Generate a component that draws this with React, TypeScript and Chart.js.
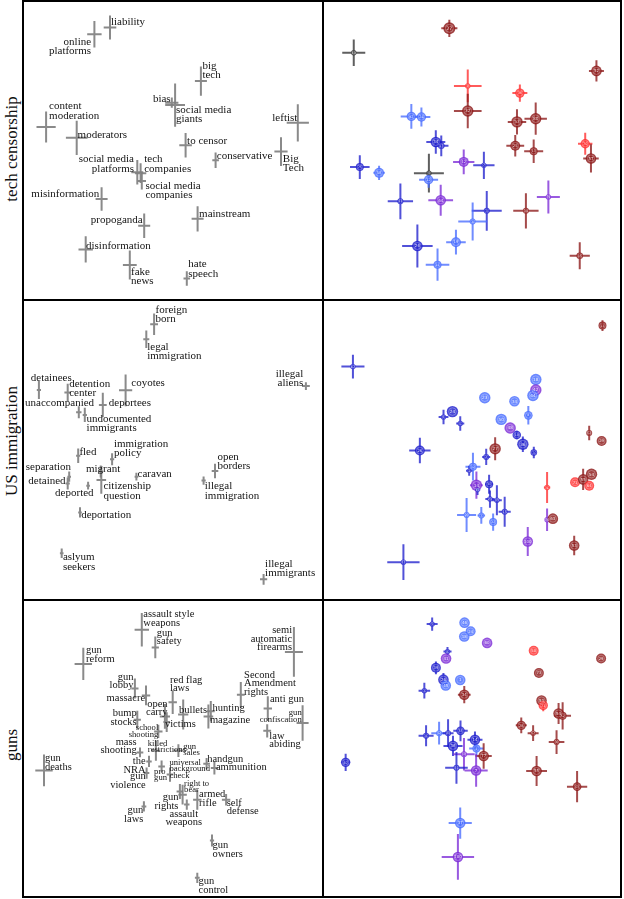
import React, { useEffect, useRef } from "react";
import { Chart, registerables } from "chart.js";

Chart.register(...registerables);

// [label, x, y, xErr, yErr, labelX, labelY, align(l|r|c), small?]
type Word = [string, number, number, number, number, number, number, string, number?];
// [x, y, xErr, yErr, weight, group, id]
type Pt = [number, number, number, number, number, string, number];

const rowTitles = ["tech censorship", "US immigration", "guns"];

const techWords: Word[] = [
  ["liability", 29.0, 91.2, 2.1, 4.0, 29.3, 92.8, "l"],
  ["online\nplatforms", 23.8, 88.9, 2.4, 4.4, 22.7, 86.4, "r"],
  ["big\ntech", 59.3, 73.3, 2.0, 4.9, 59.8, 78.4, "l"],
  ["bias", 49.6, 66.1, 2.2, 1.7, 49.2, 67.4, "r"],
  ["social media\ngiants", 50.7, 65.3, 3.3, 7.2, 51.0, 63.7, "l"],
  ["content\nmoderation", 7.7, 58.0, 3.2, 5.2, 8.7, 64.8, "l"],
  ["moderators", 17.9, 54.4, 3.6, 5.7, 18.2, 55.4, "l"],
  ["leftist", 91.6, 59.4, 3.7, 6.2, 83.1, 61.1, "l"],
  ["Big\nTech", 86.0, 49.8, 2.2, 4.8, 86.6, 47.4, "l"],
  ["to censor", 54.2, 51.9, 2.1, 4.1, 54.7, 53.2, "l"],
  ["conservative", 64.2, 46.9, 1.1, 2.6, 64.6, 48.4, "l"],
  ["social media\nplatforms", 38.1, 42.9, 2.0, 4.1, 37.0, 47.2, "r"],
  ["tech\ncompanies", 39.2, 42.6, 1.9, 3.3, 40.4, 47.2, "l"],
  ["social media\ncompanies", 39.6, 40.0, 1.4, 2.8, 40.8, 38.4, "l"],
  ["misinformation", 26.2, 34.0, 2.0, 3.9, 25.4, 35.7, "r"],
  ["propoganda", 40.4, 25.1, 2.0, 4.1, 39.9, 27.0, "r"],
  ["mainstream", 58.2, 27.4, 2.0, 4.2, 58.7, 28.9, "l"],
  ["disinformation", 20.9, 17.2, 2.4, 4.4, 21.0, 18.4, "l"],
  ["fake\nnews", 35.6, 12.0, 2.3, 4.8, 36.0, 9.7, "l"],
  ["hate\nspeech", 54.6, 7.5, 1.1, 2.4, 55.1, 12.2, "l"],
];

const immigWords: Word[] = [
  ["foreign\nborn", 43.7, 91.9, 1.3, 3.6, 44.2, 96.7, "l"],
  ["legal\nimmigration", 41.1, 86.9, 1.0, 2.9, 41.4, 84.3, "l"],
  ["detainees", 5.3, 70.0, 0.7, 3.0, 2.6, 74.1, "l"],
  ["detention\ncenter", 14.9, 69.2, 1.1, 2.9, 15.4, 71.9, "l"],
  ["unaccompanied", 18.6, 62.6, 0.9, 2.0, 0.7, 65.6, "l"],
  ["undocumented\nimmigrants", 20.6, 61.7, 0.7, 2.4, 21.2, 60.3, "l"],
  ["coyotes", 34.2, 69.9, 2.2, 5.3, 36.1, 72.2, "l"],
  ["deportees", 26.6, 65.0, 1.3, 4.1, 28.6, 65.7, "l"],
  ["illegal\naliens", 94.3, 71.3, 1.3, 1.3, 93.4, 75.3, "r"],
  ["fled", 18.4, 48.1, 0.7, 2.4, 18.8, 49.4, "l"],
  ["immigration\npolicy", 29.7, 46.9, 0.7, 2.0, 30.3, 51.9, "l"],
  ["migrant", 25.9, 42.8, 0.8, 2.0, 21.0, 43.7, "l"],
  ["citizenship\nquestion", 26.1, 40.0, 1.6, 4.6, 26.8, 37.8, "l"],
  ["caravan", 37.8, 41.1, 0.6, 1.3, 38.2, 42.0, "l"],
  ["separation", 15.4, 41.1, 0.6, 1.7, 16.0, 44.3, "r"],
  ["detained", 14.9, 38.8, 0.7, 2.0, 14.2, 39.7, "r"],
  ["deported", 21.7, 38.1, 0.6, 1.3, 10.7, 35.6, "l"],
  ["open\nborders", 64.0, 43.0, 1.1, 2.4, 64.8, 47.7, "l"],
  ["illegal\nimmigration", 60.2, 39.8, 0.7, 1.4, 60.6, 37.8, "l"],
  ["deportation", 19.0, 29.2, 0.6, 1.7, 19.4, 28.3, "l"],
  ["aslyum\nseekers", 12.9, 15.6, 0.6, 1.6, 13.3, 14.2, "l"],
  ["illegal\nimmigrants", 80.2, 6.9, 1.2, 1.8, 80.7, 11.9, "l"],
];

const gunWords: Word[] = [
  ["assault style\nweapons", 39.6, 90.1, 2.4, 5.6, 40.1, 95.1, "l"],
  ["gun\nsafety", 44.1, 84.2, 1.2, 3.6, 44.6, 89.0, "l"],
  ["gun\nreform", 20.1, 78.7, 2.9, 5.4, 21.0, 83.2, "l"],
  ["semi\nautomatic\nfirearms", 90.3, 82.7, 3.0, 8.3, 89.7, 89.9, "r"],
  ["gun\nlobby", 37.3, 70.5, 1.2, 3.3, 36.8, 74.3, "r"],
  ["massacre", 41.0, 68.2, 1.4, 3.3, 40.7, 67.1, "r"],
  ["red flag\nlaws", 49.9, 65.9, 1.4, 3.9, 49.0, 73.4, "l"],
  ["open\ncarry", 47.3, 61.2, 1.7, 4.1, 48.2, 65.3, "r"],
  ["bullets", 53.4, 61.8, 1.7, 5.0, 52.0, 63.1, "l"],
  ["victims", 47.9, 59.3, 1.1, 3.3, 47.3, 58.7, "l"],
  ["hunting", 62.6, 62.9, 1.3, 3.4, 63.2, 63.8, "l"],
  ["magazine", 61.8, 61.2, 1.6, 4.0, 62.3, 59.9, "l"],
  ["Second\nAmendment\nrights", 72.6, 68.4, 1.3, 4.3, 73.7, 75.0, "l"],
  ["anti gun", 81.6, 63.8, 1.4, 4.1, 82.3, 66.8, "l"],
  ["gun\nconfiscation", 93.2, 59.0, 2.0, 5.9, 92.9, 62.3, "r", 1],
  ["law\nabiding", 81.4, 56.4, 1.3, 2.2, 82.1, 54.6, "l"],
  ["bump\nstocks", 38.1, 60.1, 1.2, 3.0, 37.9, 62.1, "r"],
  ["school\nshooting", 45.1, 56.2, 1.4, 2.2, 45.1, 57.3, "r", 1],
  ["mass\nshooting", 39.0, 49.2, 1.1, 1.6, 37.9, 52.7, "r"],
  ["killed\nrestrictions", 44.3, 49.8, 1.4, 3.4, 41.6, 52.1, "l", 1],
  ["gun\nsales", 51.8, 49.8, 1.6, 2.1, 53.4, 51.2, "l", 1],
  ["the\nNRA", 42.0, 46.2, 0.9, 1.9, 40.9, 46.2, "r"],
  ["gun\nviolence", 41.2, 42.3, 0.9, 1.9, 40.9, 41.2, "r"],
  ["pro\ngun", 46.2, 44.5, 1.1, 2.0, 43.7, 42.9, "l", 1],
  ["universal\nbackground\ncheck", 49.0, 41.8, 1.1, 2.4, 48.8, 45.9, "l", 1],
  ["handgun", 61.2, 45.4, 1.1, 1.9, 61.4, 46.8, "l"],
  ["ammunition", 63.8, 44.0, 1.2, 2.2, 64.3, 44.4, "l"],
  ["right to\nbear", 53.2, 35.1, 1.4, 3.3, 53.7, 38.8, "l", 1],
  ["gun\nrights", 52.3, 36.2, 1.1, 2.5, 51.8, 34.2, "r"],
  ["assault\nweapons", 54.6, 31.8, 0.9, 1.7, 53.6, 28.7, "c"],
  ["armed\nrifle", 58.1, 33.4, 1.4, 3.3, 58.7, 35.1, "l"],
  ["self\ndefense", 67.7, 33.4, 1.4, 1.9, 67.9, 32.3, "l"],
  ["gun\nlaws", 40.3, 31.2, 0.8, 1.7, 40.1, 29.8, "r"],
  ["gun\nowners", 63.0, 19.8, 0.7, 2.0, 63.2, 18.1, "l"],
  ["gun\ncontrol", 58.1, 7.4, 0.8, 1.7, 58.5, 6.2, "l"],
  ["gun\ndeaths", 7.0, 43.2, 2.9, 5.3, 7.3, 47.1, "l"],
];

const techPoints: Pt[] = [
  [8.6, 84.1, 4.0, 4.6, 2.7, "G", 60],
  [41.8, 92.6, 2.8, 3.0, 6, "R", 27],
  [92.9, 77.8, 2.6, 3.7, 5.3, "R", 52],
  [48.2, 72.6, 4.8, 5.7, 2.7, "r", 9],
  [66.3, 70.1, 2.6, 3.0, 4.7, "r", 36],
  [48.2, 63.9, 4.8, 6.0, 5.7, "R", 32],
  [65.3, 60.1, 3.2, 4.4, 5.7, "R", 53],
  [71.8, 61.2, 3.9, 5.6, 5.7, "R", 80],
  [64.7, 51.8, 3.1, 3.7, 5, "R", 25],
  [71.1, 49.9, 3.3, 4.1, 4, "R", 13],
  [89.0, 52.5, 2.5, 3.8, 4.7, "r", 70],
  [91.0, 47.4, 2.7, 4.9, 5.3, "R", 57],
  [28.6, 62.0, 3.7, 4.3, 4.7, "d", 92],
  [32.1, 61.8, 3.1, 3.3, 4.7, "d", 24],
  [37.1, 53.1, 3.3, 4.1, 5.3, "D", 34],
  [39.0, 51.8, 2.5, 3.6, 3.3, "D", 17],
  [46.8, 46.2, 3.7, 4.3, 5, "P", 42],
  [53.8, 45.0, 3.7, 4.7, 2.7, "D", 7],
  [10.7, 44.4, 3.4, 4.1, 4, "D", 75],
  [17.4, 42.4, 2.0, 2.5, 5, "d", 58],
  [34.7, 42.3, 5.2, 6.7, 2.7, "G", 4],
  [34.6, 40.0, 3.3, 2.8, 4.7, "d", 12],
  [24.8, 32.5, 4.4, 6.2, 3, "D", 11],
  [38.8, 32.9, 4.3, 5.4, 5.3, "P", 64],
  [76.2, 34.0, 4.0, 5.7, 2.7, "P", 79],
  [68.4, 29.2, 4.4, 6.1, 3, "R", 38],
  [54.8, 29.2, 5.2, 6.9, 3, "D", 3],
  [49.9, 25.5, 5.0, 6.6, 3, "d", 8],
  [30.7, 17.0, 5.3, 7.5, 5.3, "D", 26],
  [44.1, 18.3, 3.4, 4.3, 5, "d", 19],
  [37.7, 10.5, 4.1, 5.6, 4, "d", 22],
  [87.1, 13.6, 3.5, 4.7, 3.3, "R", 45],
];

const immigPoints: Pt[] = [
  [8.4, 78.9, 4.0, 4.1, 2.7, "D", 67],
  [94.9, 93.1, 0.7, 1.9, 4, "R", 13],
  [71.8, 74.4, 0, 0, 5.7, "d", 18],
  [71.8, 70.8, 0, 0, 5.7, "P", 42],
  [70.8, 68.9, 0, 0, 5.7, "d", 44],
  [54.1, 68.1, 0, 0, 5.7, "d", 23],
  [64.4, 66.9, 0, 0, 5.3, "d", 34],
  [42.9, 63.3, 0, 0, 5.7, "D", 24],
  [39.8, 61.4, 1.7, 2.5, 2.7, "D", 6],
  [45.6, 59.2, 1.4, 2.5, 2.7, "D", 5],
  [69.2, 62.0, 0.8, 3.2, 4.3, "d", 8],
  [59.8, 60.6, 0, 0, 5.7, "d", 50],
  [62.9, 57.6, 0, 0, 5.7, "P", 48],
  [65.2, 55.2, 0.5, 1.5, 4.3, "D", 19],
  [67.3, 52.0, 0.5, 2.7, 5.7, "D", 36],
  [71.1, 49.1, 0.8, 2.0, 3.3, "D", 3],
  [90.3, 55.9, 0.5, 2.5, 3, "R", 52],
  [94.6, 53.1, 0, 0, 5, "R", 29],
  [31.6, 49.8, 3.7, 4.4, 5, "D", 26],
  [57.7, 50.4, 0.5, 4.0, 5.7, "R", 27],
  [54.6, 47.6, 1.4, 2.8, 3, "D", 2],
  [50.0, 44.2, 2.6, 4.8, 4, "d", 12],
  [48.7, 42.8, 1.1, 1.7, 2.3, "D", 1],
  [51.2, 37.8, 2.2, 4.7, 5.7, "P", 14],
  [55.6, 38.1, 1.4, 3.3, 4, "D", 31],
  [51.6, 36.1, 0.9, 1.7, 2.3, "D", 10],
  [55.9, 33.0, 1.6, 3.0, 2.7, "D", 21],
  [58.3, 32.6, 1.7, 5.2, 2.7, "D", 35],
  [61.0, 28.6, 2.1, 5.2, 3, "D", 15],
  [47.8, 27.5, 3.3, 5.9, 3, "d", 20],
  [52.9, 27.3, 1.3, 2.9, 3, "d", 7],
  [57.0, 25.0, 0.8, 3.0, 4, "d", 22],
  [75.7, 37.0, 1.1, 5.4, 2.7, "r", 9],
  [85.4, 38.8, 0, 0, 5, "r", 71],
  [88.2, 39.8, 0.5, 3.7, 5.3, "R", 55],
  [91.1, 41.6, 0, 0, 5.7, "R", 54],
  [90.3, 37.6, 0, 0, 5, "r", 64],
  [75.7, 25.8, 0.5, 3.9, 2.7, "P", 76],
  [77.7, 26.2, 0, 0, 5.3, "R", 63],
  [69.0, 18.3, 0.5, 5.0, 5.3, "P", 100],
  [85.1, 16.9, 0.5, 3.4, 5.3, "R", 53],
  [25.9, 11.1, 5.6, 6.2, 2.7, "D", 37],
];

const gunPoints: Pt[] = [
  [35.9, 93.5, 1.9, 2.3, 2.7, "D", 5],
  [47.1, 94.0, 0, 0, 5.3, "d", 46],
  [49.2, 91.0, 0, 0, 5, "d", 24],
  [47.0, 89.2, 0, 0, 5.3, "d", 18],
  [54.9, 87.0, 0, 0, 5.3, "P", 60],
  [71.0, 84.3, 0, 0, 5, "r", 50],
  [94.3, 81.6, 0, 0, 5, "R", 29],
  [41.2, 84.0, 1.4, 1.6, 2.7, "D", 6],
  [40.7, 81.6, 0, 0, 5.3, "P", 41],
  [37.2, 78.4, 0.8, 2.2, 5, "D", 39],
  [72.8, 76.6, 0, 0, 5, "R", 73],
  [39.8, 74.3, 0.8, 2.3, 5.3, "D", 26],
  [40.6, 72.3, 0, 0, 5.3, "d", 45],
  [45.6, 74.2, 0, 0, 5.3, "d", 1],
  [33.2, 70.5, 2.0, 2.7, 2.7, "D", 3],
  [47.0, 69.1, 2.2, 3.0, 5.3, "R", 34],
  [73.7, 67.1, 0, 0, 5.3, "R", 53],
  [74.3, 65.4, 0.5, 2.0, 4.7, "r", 71],
  [79.6, 62.6, 0.5, 3.6, 5.3, "R", 54],
  [81.0, 61.8, 2.9, 4.7, 4, "R", 52],
  [66.7, 58.5, 1.9, 2.7, 4.7, "R", 28],
  [70.8, 55.8, 1.9, 2.7, 2.7, "R", 57],
  [78.9, 52.7, 2.7, 4.1, 3, "R", 30],
  [33.8, 54.9, 2.6, 3.6, 3, "D", 8],
  [38.3, 55.8, 2.7, 3.9, 3, "d", 12],
  [41.4, 55.8, 1.9, 4.8, 3, "D", 21],
  [45.7, 56.6, 2.5, 3.6, 4.3, "D", 33],
  [50.7, 53.5, 2.6, 2.9, 5.3, "D", 14],
  [43.1, 51.4, 3.3, 3.5, 5.3, "D", 36],
  [51.2, 50.5, 2.5, 2.5, 4, "d", 2],
  [46.9, 48.5, 3.7, 5.6, 3, "P", 10],
  [53.7, 47.9, 2.8, 4.4, 5.3, "R", 77],
  [44.3, 43.8, 3.9, 5.5, 3, "D", 31],
  [51.1, 42.9, 4.0, 5.6, 5.3, "P", 7],
  [6.0, 45.7, 1.5, 3.0, 4.7, "D", 67],
  [72.0, 42.7, 3.6, 5.2, 5.3, "R", 55],
  [86.0, 37.3, 3.5, 5.4, 4.3, "R", 63],
  [45.6, 24.7, 4.0, 5.4, 5.3, "d", 37],
  [44.8, 13.0, 5.6, 7.9, 5.3, "P", 100],
];

const groupRGB: Record<string, string> = {
  R: "140,24,24",
  r: "255,45,45",
  D: "32,32,205",
  d: "72,108,255",
  P: "124,44,215",
  G: "50,50,50",
};

const SERIF = '"Liberation Serif", "Times New Roman", serif';

function scalesFor(w: number, h: number) {
  return {
    x: { type: "linear" as const, display: false, min: 0, max: w / 3 },
    y: { type: "linear" as const, display: false, min: 100 - h / 3, max: 100 },
  };
}

function wordConfig(words: Word[], font: number, lh: number, smallFont: number, smallLh: number) {
  return (w: number, h: number): any => ({
    type: "scatter",
    data: {
      datasets: [{ data: words.map((d) => ({ x: d[1], y: d[2] })), pointRadius: 0 }],
    },
    options: {
      animation: false,
      responsive: false,
      events: [],
      layout: { padding: 0 },
      scales: scalesFor(w, h),
      plugins: { legend: { display: false }, tooltip: { enabled: false } },
    },
    plugins: [
      {
        id: "wordCrosses",
        afterDatasetsDraw(chart: any) {
          const { ctx } = chart;
          const xs = chart.scales.x;
          const ys = chart.scales.y;
          ctx.save();
          ctx.strokeStyle = "rgba(128,128,128,0.92)";
          ctx.lineWidth = 2;
          for (const d of words) {
            const px = xs.getPixelForValue(d[1]);
            const py = ys.getPixelForValue(d[2]);
            ctx.beginPath();
            ctx.moveTo(xs.getPixelForValue(d[1] - d[3]), py);
            ctx.lineTo(xs.getPixelForValue(d[1] + d[3]), py);
            ctx.moveTo(px, ys.getPixelForValue(d[2] - d[4]));
            ctx.lineTo(px, ys.getPixelForValue(d[2] + d[4]));
            ctx.stroke();
          }
          ctx.fillStyle = "#141414";
          ctx.textBaseline = "middle";
          for (const d of words) {
            const small = d[8] === 1;
            ctx.font = `${small ? smallFont : font}px ${SERIF}`;
            ctx.textAlign = d[7] === "r" ? "right" : d[7] === "c" ? "center" : "left";
            const lx = xs.getPixelForValue(d[5]);
            const ly = ys.getPixelForValue(d[6]);
            d[0].split("\n").forEach((line, i) => {
              ctx.fillText(line, lx, ly + i * (small ? smallLh : lh));
            });
          }
          ctx.restore();
        },
      },
    ],
  });
}

function pointConfig(points: Pt[]) {
  return (w: number, h: number): any => ({
    type: "bubble",
    data: {
      datasets: [
        {
          data: points.map((p) => ({ x: p[0], y: p[1], r: p[4] })),
          backgroundColor: points.map((p) => `rgba(${groupRGB[p[5]]},0.82)`),
          borderWidth: 0,
        },
      ],
    },
    options: {
      animation: false,
      responsive: false,
      events: [],
      layout: { padding: 0 },
      scales: scalesFor(w, h),
      plugins: { legend: { display: false }, tooltip: { enabled: false } },
    },
    plugins: [
      {
        id: "errorBars",
        beforeDatasetsDraw(chart: any) {
          const { ctx } = chart;
          const xs = chart.scales.x;
          const ys = chart.scales.y;
          ctx.save();
          ctx.lineWidth = 2;
          for (const p of points) {
            if (!p[2] && !p[3]) continue;
            ctx.strokeStyle = `rgba(${groupRGB[p[5]]},0.78)`;
            const px = xs.getPixelForValue(p[0]);
            const py = ys.getPixelForValue(p[1]);
            ctx.beginPath();
            if (p[2]) {
              ctx.moveTo(xs.getPixelForValue(p[0] - p[2]), py);
              ctx.lineTo(xs.getPixelForValue(p[0] + p[2]), py);
            }
            if (p[3]) {
              ctx.moveTo(px, ys.getPixelForValue(p[1] - p[3]));
              ctx.lineTo(px, ys.getPixelForValue(p[1] + p[3]));
            }
            ctx.stroke();
          }
          ctx.restore();
        },
        afterDatasetsDraw(chart: any) {
          const { ctx } = chart;
          const meta = chart.getDatasetMeta(0);
          ctx.save();
          meta.data.forEach((el: any, i: number) => {
            const p = points[i];
            const r = p[4];
            const { x, y } = el.getProps(["x", "y"], true);
            ctx.beginPath();
            ctx.arc(x, y, r * 0.66, 0, Math.PI * 2);
            ctx.strokeStyle = "rgba(255,255,255,0.35)";
            ctx.lineWidth = Math.max(0.6, r * 0.14);
            ctx.stroke();
            ctx.fillStyle = "rgba(255,255,255,0.85)";
            ctx.font = `${Math.max(3, r * 0.75)}px "DejaVu Sans", sans-serif`;
            ctx.textAlign = "center";
            ctx.textBaseline = "middle";
            ctx.fillText(String(p[6]), x, y + 0.3);
          });
          ctx.restore();
        },
      },
    ],
  });
}

function Panel({ left, top, width, height, make }: { left: number; top: number; width: number; height: number; make: (w: number, h: number) => any }) {
  const ref = useRef<HTMLCanvasElement>(null);
  useEffect(() => {
    const chart = new Chart(ref.current as HTMLCanvasElement, make(width, height));
    return () => chart.destroy();
  }, []);
  return (
    <canvas
      ref={ref}
      width={width}
      height={height}
      style={{ position: "absolute", left, top, width, height, display: "block" }}
    />
  );
}

const rows = [
  { top: 1, height: 298, words: wordConfig(techWords, 11, 9.3, 9, 7), points: pointConfig(techPoints), center: 149 },
  { top: 300, height: 299, words: wordConfig(immigWords, 11, 9.3, 9, 7), points: pointConfig(immigPoints), center: 441 },
  { top: 600, height: 296, words: wordConfig(gunWords, 10.5, 8.5, 8.6, 6.5), points: pointConfig(gunPoints), center: 745 },
];

const lineStyle = (left: number, top: number, width: number, height: number): React.CSSProperties => ({
  position: "absolute",
  left,
  top,
  width,
  height,
  background: "#000",
});

export default function App() {
  return (
    <div
      style={{
        position: "fixed",
        left: 0,
        top: 0,
        width: 624,
        height: 899,
        overflow: "hidden",
        background: "#fff",
      }}
    >
      {rows.map((r, i) => (
        <React.Fragment key={i}>
          <Panel left={23} top={r.top} width={299} height={r.height} make={r.words} />
          <Panel left={323} top={r.top} width={297} height={r.height} make={r.points} />
          <div
            style={{
              position: "absolute",
              left: 12 - 100,
              top: r.center - 10,
              width: 200,
              height: 20,
              lineHeight: "20px",
              textAlign: "center",
              transform: "rotate(-90deg)",
              fontFamily: SERIF,
              fontSize: 17,
              color: "#111",
              whiteSpace: "nowrap",
            }}
          >
            {rowTitles[i]}
          </div>
        </React.Fragment>
      ))}
      <div style={lineStyle(22, 0, 600, 2)} />
      <div style={lineStyle(22, 299, 600, 2)} />
      <div style={lineStyle(22, 599, 600, 2)} />
      <div style={lineStyle(22, 896, 600, 2)} />
      <div style={lineStyle(22, 0, 2, 898)} />
      <div style={lineStyle(322, 0, 2, 898)} />
      <div style={lineStyle(620, 0, 2, 898)} />
    </div>
  );
}
